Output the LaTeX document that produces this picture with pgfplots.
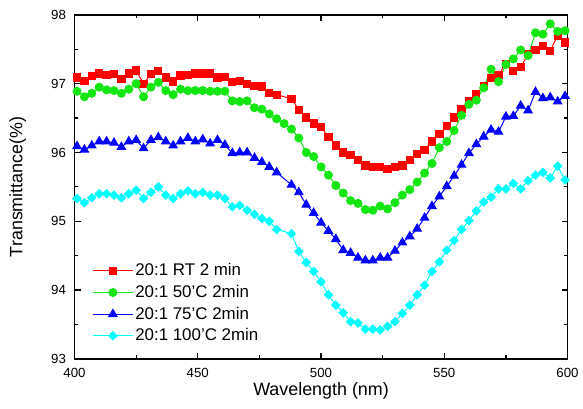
\documentclass[border=0pt]{standalone}
\usepackage{fontspec}
\setmainfont{Liberation Sans}
\usepackage{pgfplots}
\pgfplotsset{compat=1.18}

\definecolor{cred}{RGB}{255,0,0}
\definecolor{cgreen}{RGB}{20,230,20}
\definecolor{cblue}{RGB}{0,0,255}
\definecolor{ccyan}{RGB}{0,255,255}

\begin{document}
\begin{tikzpicture}
\begin{axis}[
  name=ax,
  scale only axis,
  width=372pt, height=259.5pt,
  xmin=400, xmax=600, ymin=93, ymax=98,
  xtick={400,450,...,600}, ytick={93,94,...,98},
  minor x tick num=1, minor y tick num=1,
  tick align=inside, tick pos=both,
  major tick length=4.5pt, minor tick length=2.5pt,
  axis line style={line width=1.3pt},
  every tick/.style={black, line width=0.9pt},
  tick label style={font=\fontsize{10}{12}\selectfont},
  xticklabel style={yshift=-3.5pt},
  yticklabel style={xshift=-3pt},
  /pgf/number format/assume math mode=true,
  /pgf/number format/1000 sep={},
  xlabel={Wavelength (nm)}, ylabel={Transmittance(\%)},
  label style={font=\fontsize{13.5}{16}\selectfont},
  xlabel style={at={(axis description cs:0.5,-0.092)}, anchor=center},
  ylabel style={at={(axis description cs:-0.115,0.5)}, anchor=center},
  legend style={draw=none, fill=none, at={(axis description cs:0.036,0.283)},
    anchor=north west, font=\fontsize{12.75}{15}\selectfont,
    row sep=2.6pt, inner sep=0pt, nodes={inner sep=1.5pt}},
  legend cell align=left,
  legend image code/.code={\draw[mark repeat=2,mark phase=2] plot coordinates {(0pt,0pt) (15pt,0pt) (30pt,0pt)};},
]

% 20:1 RT 2 min
\addplot[color=cred, line width=0.75pt, mark=square*, mark size=2.75pt] coordinates {
(401,97.09) (404,97.04) (407,97.11) (410,97.15) (413,97.13) (416,97.14) (419,97.07)
(422,97.15) (425,97.19) (428,97.00) (431,97.14) (434,97.18) (437,97.09) (440,97.03)
(443,97.12) (446,97.13) (449,97.15) (452,97.15) (455,97.15) (458,97.09) (461,97.10)
(464,97.02) (467,97.04) (470,97.00) (473,96.97) (476,96.96) (479,96.86) (482,96.84)
(488,96.78) (491,96.62) (494,96.51) (497,96.42) (500,96.37) (503,96.23) (506,96.10)
(509,96.00) (512,95.96) (515,95.89) (518,95.81) (521,95.79) (524,95.79) (527,95.76)
(530,95.79) (533,95.81) (536,95.89) (539,95.98) (542,96.04) (545,96.16) (548,96.27)
(551,96.38) (554,96.51) (557,96.63) (560,96.75) (563,96.85) (566,96.97) (569,97.08)
(572,97.13) (575,97.29) (578,97.18) (581,97.24) (584,97.43) (587,97.49) (590,97.55)
(593,97.48) (596,97.70) (599,97.60)
};
\addlegendentry{20:1 RT 2 min}

% 20:1 50'C 2min
\addplot[color=cgreen, line width=0.75pt, mark=*, mark size=3pt] coordinates {
(401,96.89) (404,96.81) (407,96.86) (410,96.95) (413,96.91) (416,96.90) (419,96.86)
(422,96.92) (425,97.00) (428,96.81) (431,96.95) (434,97.02) (437,96.90) (440,96.84)
(443,96.92) (446,96.90) (449,96.90) (452,96.90) (455,96.89) (458,96.89) (461,96.89)
(464,96.75) (467,96.74) (470,96.75) (473,96.65) (476,96.63) (479,96.56) (482,96.49)
(485,96.42) (488,96.34) (491,96.21) (494,96.00) (497,95.94) (500,95.79) (503,95.67)
(506,95.52) (509,95.41) (512,95.30) (515,95.26) (518,95.17) (521,95.16) (524,95.22)
(527,95.18) (530,95.27) (533,95.38) (536,95.46) (539,95.57) (542,95.70) (545,95.84)
(548,96.07) (551,96.16) (554,96.32) (557,96.54) (560,96.70) (563,96.76) (566,96.94)
(569,97.21) (572,97.03) (575,97.28) (578,97.36) (581,97.49) (584,97.41) (587,97.74)
(590,97.72) (593,97.87) (596,97.76) (599,97.77)
};
\addlegendentry{20:1 50'C 2min}

% 20:1 75'C 2min
\addplot[color=cblue, line width=0.75pt, mark=triangle*, mark size=3.6pt] coordinates {
(401,96.09) (404,96.04) (407,96.10) (410,96.16) (413,96.16) (416,96.14) (419,96.08)
(422,96.16) (425,96.18) (428,96.06) (431,96.18) (434,96.22) (437,96.16) (440,96.10)
(443,96.16) (446,96.21) (449,96.16) (452,96.19) (455,96.13) (458,96.18) (461,96.11)
(464,95.99) (467,96.00) (470,96.00) (473,95.92) (476,95.86) (479,95.79) (482,95.71)
(488,95.53) (491,95.42) (494,95.24) (497,95.12) (500,94.98) (503,94.86) (506,94.74)
(509,94.58) (512,94.54) (515,94.47) (518,94.43) (521,94.43) (524,94.47) (527,94.47)
(530,94.57) (533,94.69) (536,94.78) (539,94.89) (542,95.05) (545,95.22) (548,95.36)
(551,95.51) (554,95.66) (557,95.82) (560,95.99) (563,96.12) (566,96.23) (569,96.33)
(572,96.30) (575,96.52) (578,96.53) (581,96.68) (584,96.61) (587,96.88) (590,96.79)
(593,96.80) (596,96.74) (599,96.82)
};
\addlegendentry{20:1 75'C 2min}

% 20:1 100'C 2min
\addplot[color=ccyan, line width=0.75pt, mark=square*, mark size=2.2pt, mark options={rotate=45}] coordinates {
(401,95.33) (404,95.27) (407,95.34) (410,95.40) (413,95.40) (416,95.38) (419,95.34)
(422,95.40) (425,95.45) (428,95.33) (431,95.42) (434,95.50) (437,95.38) (440,95.33)
(443,95.40) (446,95.44) (449,95.40) (452,95.42) (455,95.38) (458,95.38) (461,95.33)
(464,95.21) (467,95.23) (470,95.16) (473,95.10) (476,95.04) (479,95.00) (482,94.88)
(488,94.82) (491,94.56) (494,94.40) (497,94.27) (500,94.12) (503,93.93) (506,93.78)
(509,93.67) (512,93.54) (515,93.52) (518,93.43) (521,93.43) (524,93.42) (527,93.47)
(530,93.54) (533,93.66) (536,93.78) (539,93.93) (542,94.07) (545,94.27) (548,94.41)
(551,94.58) (554,94.72) (557,94.88) (560,95.01) (563,95.15) (566,95.28) (569,95.35)
(572,95.47) (575,95.47) (578,95.55) (581,95.47) (584,95.59) (587,95.67) (590,95.71)
(593,95.63) (596,95.80) (599,95.60)
};
\addlegendentry{20:1 100'C 2min}
\end{axis}
\path ([xshift=-56.25pt,yshift=-37.5pt]ax.south west) rectangle ([xshift=9pt,yshift=11.25pt]ax.north east);
\end{tikzpicture}
\end{document}
